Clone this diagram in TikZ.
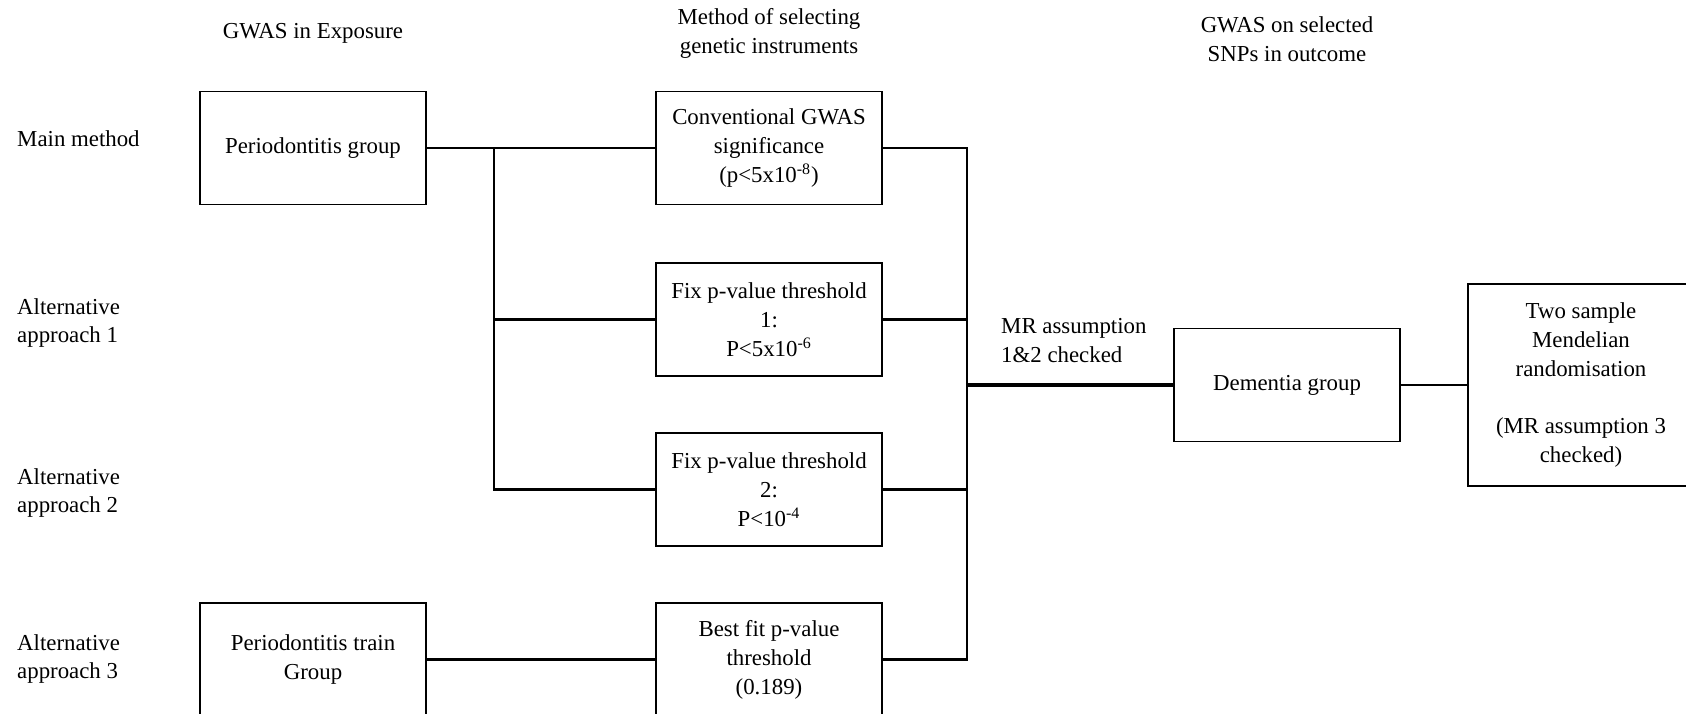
\documentclass[tikz,border=0pt]{standalone}
\usepackage{fontspec}
\setmainfont{Liberation Serif}
\usetikzlibrary{calc, positioning}

\begin{document}
\begin{tikzpicture}[x=0.02cm, y=-0.02cm,
    font=\fontsize{13}{16.5}\selectfont,
    box/.style={draw, line width=0.9pt, minimum width=4.52cm, minimum height=2.26cm, align=center, inner sep=2pt},
    link/.style={line width=1.3pt},
    mainlink/.style={line width=2.2pt}]
    \clip (0,0) rectangle (1686,713);

    % Column titles
    \node (hexp) at (313,33) {GWAS in Exposure};
    \node[align=center] (hsel) at (769,33) {Method of selecting\\genetic instruments};
    \node[align=center] (hout) at (1287,39) {GWAS on selected\\SNPs in outcome};

    % Row titles
    \node[anchor=west] (rmain) at (11,139) {Main method};
    \foreach \k/\y in {1/323, 2/493, 3/659}
    {
    \node[anchor=west, align=left] (ralt\k) at (11,\y) {Alternative\\approach \k};
    }

    % Exposure
    \node[box] (pg) at (313,148) {Periodontitis group};
    \node[box] (ptg) at (313,659.5) {Periodontitis train\\Group};

    % Instruments
    \node[box] (cgs) at (769,148) {Conventional GWAS\\significance\\(p<5x10\textsuperscript{-8})};
    \node[box] (fix1) at (769,319.5) {Fix p-value threshold\\1:\\P<5x10\textsuperscript{-6}};
    \node[box] (fix2) at (769,489.5) {Fix p-value threshold\\2:\\P<10\textsuperscript{-4}};
    \node[box] (bfp) at (769,659.5) {Best fit p-value\\threshold\\(0.189)};

    % Outcome
    \node[box] (dem) at (1287,385) {Dementia group};
    \node[box, minimum height=4.04cm] (tsmr) at (1581,385) {Two sample\\Mendelian\\randomisation\\[16.5pt](MR assumption 3\\checked)};
    \node[anchor=west, align=left] (mra) at (995,341) {MR assumption\\1\&2 checked};

    % Connectors
    \coordinate (split) at (494,148);
    \coordinate (bus) at (967,385);
    \draw[link] (pg) -- (cgs);
    \draw[link] (split) |- (fix2);
    \draw[link] (split |- fix1) -- (fix1);
    \draw[link] (ptg) -- (bfp);
    \draw[link] (cgs) -| (bus |- bfp) -- (bfp);
    \draw[link] (fix1) -- (bus |- fix1);
    \draw[link] (fix2) -- (bus |- fix2);
    \draw[mainlink] (bus) -- (dem);
    \draw[link] (dem) -- (tsmr);
\end{tikzpicture}
\end{document}
